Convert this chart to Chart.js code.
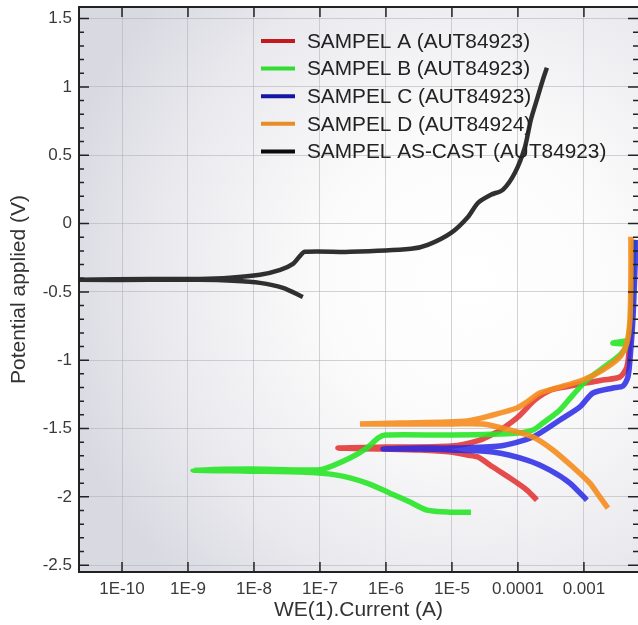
<!DOCTYPE html>
<html>
<head>
<meta charset="utf-8">
<script src="https://cdn.jsdelivr.net/npm/chart.js@4.4.0/dist/chart.umd.min.js"></script>
<style>
html, body { margin: 0; padding: 0; background: #fff; }
#wrap { width: 638px; height: 625px; }
</style>
</head>
<body>
<div id="wrap"><canvas id="chart" width="638" height="625"></canvas></div>
<script>
// tick positions / labels
const xTicks = [1e-10, 1e-9, 1e-8, 1e-7, 1e-6, 1e-5, 1e-4, 1e-3];
const xTickLabels = ["1E-10", "1E-9", "1E-8", "1E-7", "1E-6", "1E-5", "0.0001", "0.001"];
const yTicks = [-2.5, -2, -1.5, -1, -0.5, 0, 0.5, 1, 1.5];

const seriesLabels = [
    "SAMPEL A (AUT84923)",
    "SAMPEL B (AUT84923)",
    "SAMPEL C (AUT84923)",
    "SAMPEL D (AUT84924)",
    "SAMPEL AS-CAST (AUT84923)"
];

// current (A) / potential (V), scan order
const currentA = [1.94e-4, 1.37e-4, 8.4e-5, 4.18e-5, 2.48e-5, 1.69e-5, 9.7e-6, 3.27e-6, 9.7e-7, 1.87e-7,
    9.7e-7, 9.7e-6, 2.66e-5, 4.8e-5, 6.35e-5, 1.0e-4, 1.81e-4, 3.16e-4, 6.13e-4, 1.04e-3,
    1.94e-3, 3.51e-3, 4.48e-3, 4.98e-3, 5.33e-3, 5.52e-3, 5.73e-3];
const potentialA = [-2.024, -1.951, -1.877, -1.782, -1.709, -1.694, -1.672, -1.657, -1.650, -1.643,
    -1.636, -1.628, -1.584, -1.526, -1.489, -1.416, -1.291, -1.218, -1.189, -1.167,
    -1.145, -1.123, -1.049, -0.852, -0.559, -0.266, -0.119];

const currentB = [1.94e-5, 9.3e-6, 4.18e-6, 2.31e-6, 1.15e-6, 5.15e-7, 1.81e-7, 5.0e-8, 8.7e-9, 1.19e-9,
    8.7e-9, 5.0e-8, 1.11e-7, 2.85e-7, 5.15e-7, 7.6e-7, 9.7e-7, 9.7e-6, 5.52e-5, 1.0e-4,
    1.69e-4, 2.39e-4, 4.33e-4, 6.8e-4, 1.11e-3, 1.94e-3, 3.51e-3, 4.48e-3, 2.75e-3, 4.64e-3,
    4.98e-3, 5.33e-3, 5.52e-3, 5.73e-3];
const potentialB = [-2.112, -2.112, -2.097, -2.038, -1.973, -1.899, -1.841, -1.819, -1.812, -1.804,
    -1.797, -1.804, -1.797, -1.716, -1.643, -1.570, -1.548, -1.548, -1.540, -1.533,
    -1.511, -1.460, -1.364, -1.255, -1.145, -1.057, -0.961, -0.888, -0.874, -0.852,
    -0.778, -0.581, -0.339, -0.119];

const currentC = [1.11e-3, 6.13e-4, 3.05e-4, 1.37e-4, 4.18e-5, 9.7e-6, 3.27e-6, 9.0e-7, 3.27e-6, 9.7e-6,
    5.33e-5, 1.69e-4, 4.33e-4, 8.7e-4, 1.37e-3, 2.75e-3, 3.9e-3, 4.64e-3, 4.98e-3, 5.52e-3,
    5.93e-3, 6.14e-3];
const potentialC = [-2.024, -1.899, -1.804, -1.731, -1.672, -1.657, -1.650, -1.650, -1.643, -1.643,
    -1.628, -1.562, -1.438, -1.342, -1.240, -1.203, -1.189, -1.123, -0.998, -0.705,
    -0.339, -0.119];

const currentD = [2.31e-3, 1.75e-3, 1.23e-3, 6.8e-4, 3.39e-4, 1.69e-4, 7.57e-5, 2.95e-5, 9.7e-6, 1.63e-6,
    4.04e-7, 1.63e-6, 1.69e-5, 4.18e-5, 9.66e-5, 1.37e-4, 2.15e-4, 3.9e-4, 9.66e-4, 1.94e-3,
    3.51e-3, 4.48e-3, 4.98e-3, 5.15e-3, 5.15e-3];
const potentialD = [-2.082, -2.002, -1.899, -1.782, -1.657, -1.562, -1.511, -1.467, -1.467, -1.467,
    -1.467, -1.460, -1.445, -1.401, -1.350, -1.306, -1.240, -1.203, -1.145, -1.071,
    -0.976, -0.874, -0.705, -0.412, -0.097];

const currentCast = [5.5e-8, 2.75e-8, 1.23e-8, 4.8e-9, 1.5e-9, 2.65e-10, 2.23e-11, 2.65e-10, 1.5e-9, 4.3e-9,
    1.23e-8, 2.5e-8, 3.9e-8, 5.0e-8, 5.9e-8, 2.85e-7, 2.4e-6, 4.3e-6, 9.7e-6, 1.75e-5,
    2.48e-5, 3.9e-5, 5.9e-5, 9.0e-5, 1.28e-4, 1.57e-4, 2.0e-4, 2.39e-4, 2.75e-4];
const potentialCast = [-0.537, -0.471, -0.434, -0.419, -0.412, -0.412, -0.412, -0.405, -0.405, -0.397,
    -0.375, -0.339, -0.295, -0.236, -0.207, -0.207, -0.185, -0.156, -0.068, 0.049,
    0.152, 0.211, 0.247, 0.372, 0.562, 0.76, 0.929, 1.053, 1.141];

const lineColors = ['rgba(225,45,45,0.85)', 'rgba(40,230,40,0.9)', 'rgba(40,40,230,0.85)', 'rgba(245,140,30,0.9)', 'rgba(25,25,25,0.9)'];
const legendColors = ['rgb(195,25,30)', 'rgb(50,220,50)', 'rgb(20,20,165)', 'rgb(232,140,40)', 'rgb(10,10,10)'];

const font = "'Liberation Sans', Arial, sans-serif";

const toPoints = (xs, ys) => xs.map((v, i) => ({ x: v, y: ys[i] }));
const allCurrents = [currentA, currentB, currentC, currentD, currentCast];
const allPotentials = [potentialA, potentialB, potentialC, potentialD, potentialCast];

const background = {
    id: 'background',
    beforeDraw(chart) {
        const { ctx, chartArea: a } = chart;
        const g = ctx.createRadialGradient(470, 280, 0, 470, 280, 420);
        g.addColorStop(0, '#ffffff');
        g.addColorStop(0.35, '#fbfbfb');
        g.addColorStop(0.7, '#ececf0');
        g.addColorStop(1, '#d9d9e2');
        ctx.save();
        ctx.fillStyle = g;
        ctx.fillRect(a.left, a.top, a.right - a.left, a.bottom - a.top);
        ctx.restore();
    }
};

// frame top line and inward tick marks
const frameTicks = {
    id: 'frameTicks',
    afterDraw(chart) {
        const { ctx, chartArea: a, scales } = chart;
        ctx.save();
        ctx.strokeStyle = '#222';
        ctx.lineWidth = 2;
        ctx.beginPath();
        ctx.moveTo(a.left, a.top);
        ctx.lineTo(a.right, a.top);
        ctx.stroke();
        ctx.lineWidth = 1.5;
        ctx.beginPath();
        for (let v = -25; v <= 15; v++) {
            const py = scales.y.getPixelForValue(v / 10);
            const len = v % 5 === 0 ? 10 : 5;
            ctx.moveTo(a.left, py); ctx.lineTo(a.left + len, py);
            ctx.moveTo(a.right, py); ctx.lineTo(a.right - len, py);
        }
        xTicks.forEach(v => {
            const px = scales.x.getPixelForValue(v);
            ctx.moveTo(px, a.top); ctx.lineTo(px, a.top + 10);
            ctx.moveTo(px, a.bottom); ctx.lineTo(px, a.bottom - 10);
        });
        ctx.stroke();
        ctx.restore();
    }
};

const insideLegend = {
    id: 'insideLegend',
    afterDraw(chart) {
        const { ctx, chartArea: a } = chart;
        const x0 = a.left + 182, y0 = a.top + 34;
        ctx.save();
        ctx.font = "20.8px " + font;
        ctx.textBaseline = 'middle';
        seriesLabels.forEach((label, i) => {
            const y = y0 + i * 27.6;
            ctx.strokeStyle = legendColors[i];
            ctx.lineWidth = 4;
            ctx.beginPath();
            ctx.moveTo(x0, y); ctx.lineTo(x0 + 34, y);
            ctx.stroke();
            ctx.fillStyle = '#222';
            ctx.fillText(label, x0 + 46, y + 1);
        });
        ctx.restore();
    }
};

const config = {
    type: 'scatter',
    data: {
        datasets: seriesLabels.map((label, i) => ({
            label: label,
            data: toPoints(allCurrents[i], allPotentials[i]),
            showLine: true,
            borderColor: lineColors[i],
            backgroundColor: lineColors[i],
            borderWidth: i === 4 ? 4.5 : 5.5,
            pointRadius: 0,
            tension: 0.25,
            order: 5 - i
        }))
    },
    options: {
        responsive: false,
        animation: false,
        layout: { padding: { left: 0, right: 0, top: 7, bottom: 0 } },
        plugins: { legend: { display: false }, tooltip: { enabled: false } },
        scales: {
            x: {
                type: 'logarithmic',
                min: 2.23e-11,
                max: 6.6e-3,
                afterBuildTicks: scale => { scale.ticks = xTicks.map(v => ({ value: v })); },
                afterFit: scale => { scale.height = 53; scale.paddingLeft = 0; scale.paddingRight = 0; },
                ticks: {
                    callback: value => xTickLabels[xTicks.indexOf(value)],
                    color: '#3a3a3a',
                    font: { family: font, size: 17 },
                    padding: 7,
                    maxRotation: 0,
                    autoSkip: false
                },
                grid: { color: 'rgba(175,175,182,0.55)', drawTicks: false },
                border: { color: '#222', width: 2 },
                title: {
                    display: true,
                    text: 'WE(1).Current (A)',
                    color: '#333',
                    font: { family: font, size: 21 },
                    padding: { top: 0, bottom: 2 }
                }
            },
            y: {
                min: -2.55,
                max: 1.585,
                afterBuildTicks: scale => { scale.ticks = yTicks.map(v => ({ value: v })); },
                afterFit: scale => { scale.width = 79; scale.paddingTop = 0; scale.paddingBottom = 0; },
                ticks: {
                    callback: value => String(value),
                    color: '#3a3a3a',
                    font: { family: font, size: 17 },
                    padding: 7
                },
                grid: { color: 'rgba(175,175,182,0.55)', drawTicks: false },
                border: { color: '#222', width: 2 },
                title: {
                    display: true,
                    text: 'Potential applied (V)',
                    color: '#333',
                    font: { family: font, size: 21 },
                    padding: { top: 7, bottom: 0 }
                }
            }
        }
    },
    plugins: [background, frameTicks, insideLegend]
};

const ctx = document.getElementById('chart').getContext('2d');
window.tafel = new Chart(ctx, config);
</script>
</body>
</html>
